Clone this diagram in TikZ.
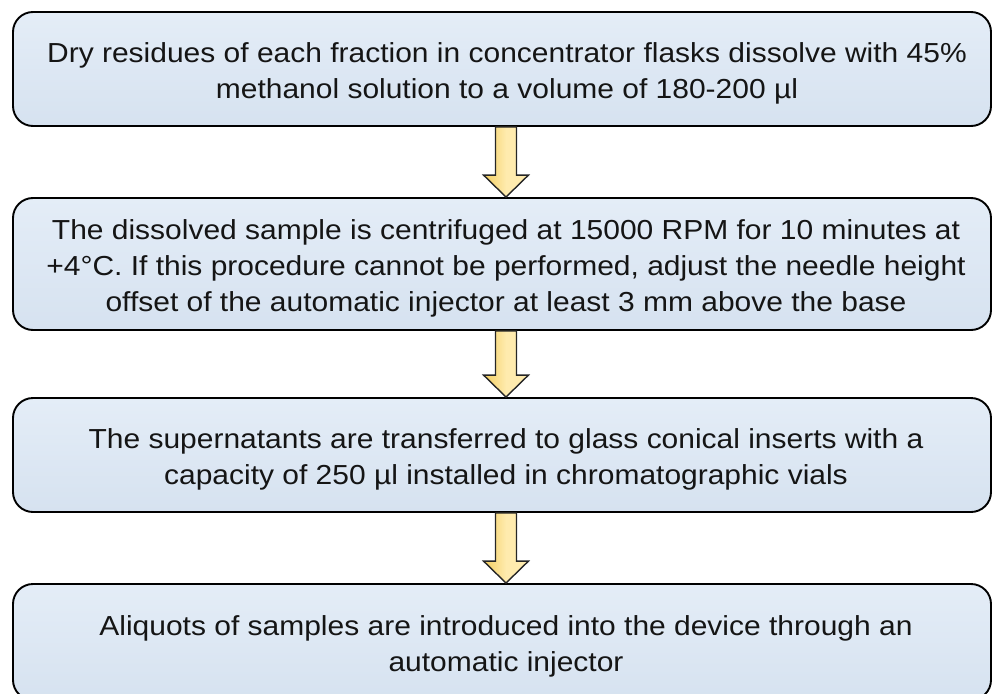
\documentclass[tikz,border=0pt]{standalone}
\usepackage{fontspec}
\setmainfont[FakeStretch=1.09]{Liberation Sans}
\usetikzlibrary{calc}
\definecolor{boxtop}{HTML}{E4EDF7}
\definecolor{boxbot}{HTML}{D6E2F0}
\definecolor{arrL}{HTML}{F2CD5E}
\definecolor{arrR}{HTML}{FFEBAE}
\definecolor{txt}{HTML}{151515}
\tikzset{
  stepbox/.style={draw=black, line width=1.9pt, rounded corners=20pt,
    top color=boxtop, bottom color=boxbot,
    minimum width=978pt, inner sep=0pt},
  boxtext/.style={align=center, text=txt, inner sep=0pt,
    font=\fontsize{27.5}{36}\selectfont},
  yarrow/.style={draw=black!85, line width=1.4pt, line join=miter,
    left color=arrL, right color=arrR, middle color=arrR}
}
\newcommand{\flowarrow}[2]{%
  \path[yarrow] let \p1=(#1), \p2=(#2) in
   (\x1-10.5pt,\y1) -- (\x1-10.5pt,\y2+22pt) -- (\x1-22.5pt,\y2+22pt) --
   (\x1,\y2) -- (\x1+22.5pt,\y2+22pt) -- (\x1+10.5pt,\y2+22pt) --
   (\x1+10.5pt,\y1) -- cycle;}
\begin{document}
\begin{tikzpicture}[x=1pt,y=-1pt]
\useasboundingbox (0,0) rectangle (992,693);
\node[stepbox, minimum height=114pt] (b1) at (502,69) {};
\node[stepbox, minimum height=132pt] (b2) at (502,264) {};
\node[stepbox, minimum height=114pt] (b3) at (502,455) {};
\node[stepbox, minimum height=116pt] (b4) at (502,642) {};
\node[boxtext] (t1) at ($(b1.center)+(5,4)$)
  {Dry residues of each fraction in concentrator flasks dissolve with 45\%\\
   methanol solution to a volume of 180-200 µl};
\node[boxtext] (t2) at ($(b2.center)+(4,4.5)$)
  {The dissolved sample is centrifuged at 15000 RPM for 10 minutes at\\
   +4°C. If this procedure cannot be performed, adjust the needle height\\
   offset of the automatic injector at least 3 mm above the base};
\node[boxtext] (t3) at ($(b3.center)+(4,4.5)$)
  {The supernatants are transferred to glass conical inserts with a\\
   capacity of 250 µl installed in chromatographic vials};
\node[boxtext] (t4) at ($(b4.center)+(4,4)$)
  {Aliquots of samples are introduced into the device through an\\
   automatic injector};
\coordinate (a1s) at ($(b1.south)+(4,0)$);
\coordinate (a1e) at ($(b2.north)+(4,0)$);
\coordinate (a2s) at ($(b2.south)+(4,0)$);
\coordinate (a2e) at ($(b3.north)+(4,0)$);
\coordinate (a3s) at ($(b3.south)+(4,0)$);
\coordinate (a3e) at ($(b4.north)+(4,0)$);
\flowarrow{a1s}{a1e}
\flowarrow{a2s}{a2e}
\flowarrow{a3s}{a3e}
\end{tikzpicture}
\end{document}
